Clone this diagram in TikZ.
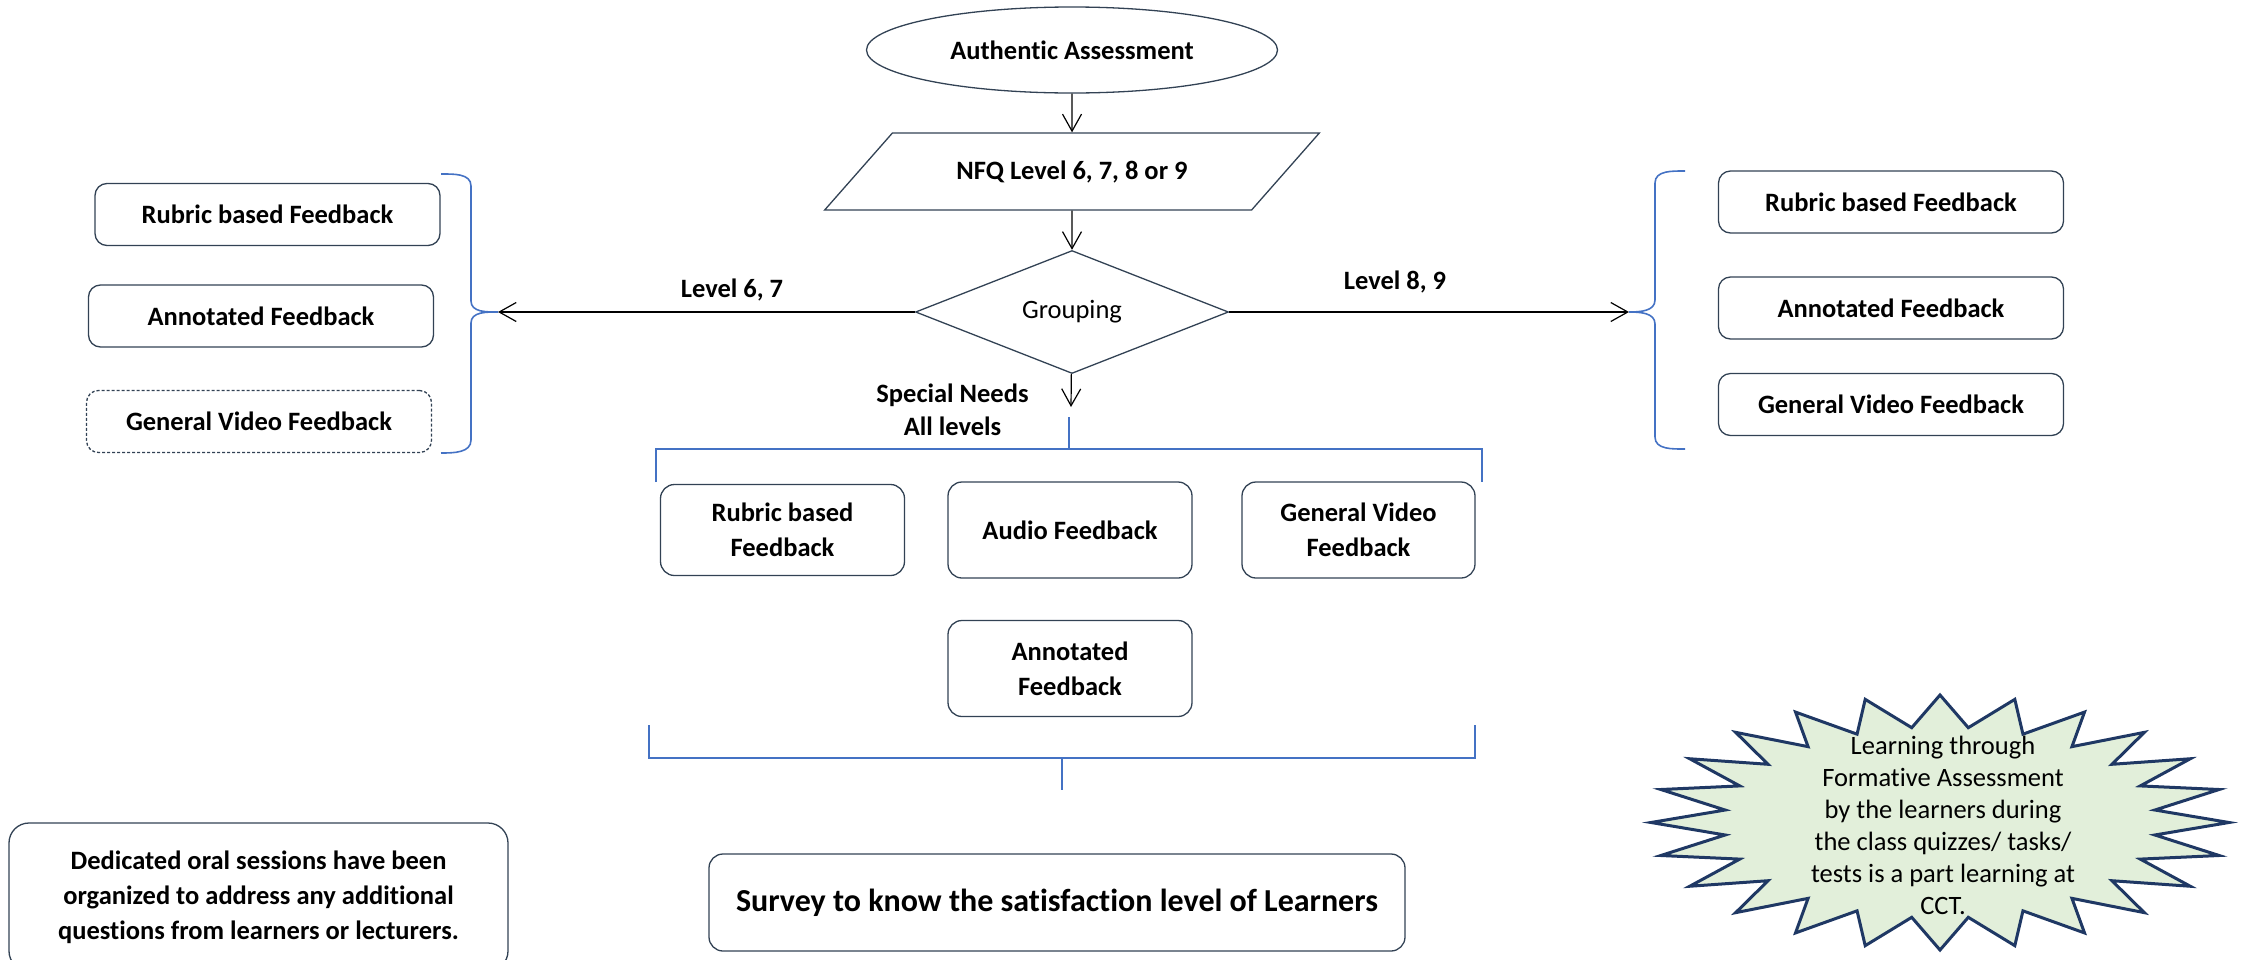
\documentclass[tikz,border=0pt]{standalone}
\usepackage{fontspec}
\setmainfont[Ligatures=NoCommon]{Carlito}
\usepackage {tikz}
\usetikzlibrary {positioning}
\usetikzlibrary{shapes.geometric}
\usetikzlibrary{arrows.meta}
\definecolor{boxline}{RGB}{50,66,84}
\definecolor{bracketblue}{RGB}{68,114,196}
\definecolor{burstfill}{RGB}{226,239,218}
\definecolor{burstline}{RGB}{31,56,100}
\newcommand{\bodysize}{\fontsize{13.25}{17.5}\selectfont}
\tikzset{
	fbox/.style = {rectangle, rounded corners=6pt, draw=boxline, line width=0.65pt, font=\bodysize\bfseries, align=center, inner sep=2pt},
	sidebox/.style = {fbox, minimum width=172.5pt, minimum height=31pt},
	midbox/.style = {fbox, rounded corners=7pt, minimum width=122pt, minimum height=48pt},
	bracket/.style = {-, draw=bracketblue, line width=0.8pt},
	lab/.style = {font=\bodysize\bfseries, inner sep=0pt, align=center},
	burst/.style = {-, draw=burstline, fill=burstfill, line width=1.5pt, line join=miter}}

\begin{document}
\begin{tikzpicture}[x=0.5pt, y=-0.5pt, -{Straight Barb[length=8.5pt,width=9.5pt]}, line width=0.6pt, on grid,
    start/.style = {ellipse, draw=boxline, line width=0.65pt, font=\bodysize\bfseries, minimum width=205.5pt, minimum height=43pt},
    data/.style = {trapezium, trapezium left angle=37.6, trapezium right angle=142.4, trapezium stretches,
      draw=boxline, line width=0.65pt, font=\bodysize\bfseries, minimum width=247.5pt, minimum height=38.5pt},
    decision/.style = {diamond, aspect=2.5, draw=boxline, line width=0.65pt, font=\bodysize, minimum width=156.5pt, minimum height=61.5pt}
    ]
    \useasboundingbox (0,0) rectangle (2244,959);

    \node[start] (AA) at (1072,50) {Authentic Assessment};
    \node[data] (NFQ) [below = 60.75pt of AA] {NFQ Level 6, 7, 8 or 9};
    \node[decision] (G) [below = 70.25pt of NFQ] {Grouping};

    \node[sidebox] (L1) at (267.5,214.5) {Rubric based Feedback};
    \node[sidebox] (L2) [below left = 50.75pt and 3.25pt of L1] {Annotated Feedback};
    \node[sidebox, dash pattern=on 1.5pt off 1pt] (L3) [below left = 52.75pt and 1pt of L2] {General Video Feedback};

    \node[sidebox] (R1) at (1891,202) {Rubric based Feedback};
    \node[sidebox] (R2) [below = 53pt of R1] {Annotated Feedback};
    \node[sidebox] (R3) [below = 48.25pt of R2] {General Video Feedback};

    \node[midbox] (M2) at (1070,530) {Audio Feedback};
    \node[midbox, minimum height=45.5pt] (M1) [left = 143.75pt of M2] {Rubric based\\Feedback};
    \node[midbox, minimum width=116.5pt] (M3) [right = 144.25pt of M2] {General Video\\Feedback};
    \node[midbox] (M4) [below = 69.25pt of M2] {Annotated\\Feedback};

    \node[fbox, rounded corners=7pt, minimum width=348pt, minimum height=48.5pt, font=\fontsize{16}{19}\selectfont\bfseries] (S) at (1057,902.5) {Survey to know the satisfaction level of Learners};
    \node[fbox, rounded corners=10pt, minimum width=249.5pt, minimum height=74pt] (O) at (258.5,897) {Dedicated oral sessions have been\\organized to address any additional\\questions from learners or lecturers.};

    \node[lab] (LA) at (732,290) {Level 6, 7};
    \node[lab] (LB) at (1395,282) {Level 8, 9};
    \node[lab, font=\fontsize{13.25}{16.5}\selectfont\bfseries] (SN) at (952.5,409.5) {Special Needs\\All levels};

    \coordinate (lt) at (498,312);
    \coordinate (rt) at (1629,312);
    \coordinate (sn) at (1071,407);

    \draw (AA) -- (NFQ);
    \draw (NFQ) -- (G);
    \draw (G) -- (sn);
    \draw (G) -- (lt);
    \draw (G) -- (rt);

    \draw[bracket] (441,174) to[out=0,in=90] (471,186) -- (471,301) to[out=-90,in=180] (lt)
      to[out=180,in=90] (471,323) -- (471,440) to[out=-90,in=0] (441,453);
    \draw[bracket] (1685,171) to[out=180,in=90] (1655,183) -- (1655,300) to[out=-90,in=0] (rt)
      to[out=0,in=90] (1655,324) -- (1655,437) to[out=-90,in=180] (1685,449);
    \draw[bracket] (656,482) |- (1482,449) -- (1482,482);
    \draw[bracket] (1069,417) -- (1069,449);
    \draw[bracket] (649,725) |- (1475,758) -- (1475,725);
    \draw[bracket] (1062,758) -- (1062,790);

    \draw[burst] (1940,695) \foreach \k in {1,...,47}{
      -- ({1940+289*(0.875+0.125*cos(180*\k))*cos(90+7.5*\k)}, {822.5-127.5*(0.875+0.125*cos(180*\k))*sin(90+7.5*\k)})} -- cycle;
    \node[align=center, font=\fontsize{13.25}{16}\selectfont] (CCT) at (1943,825) {Learning through\\Formative Assessment\\by the learners during\\the class quizzes/ tasks/\\tests is a part learning at\\CCT.};
    \end{tikzpicture}
\end{document}
